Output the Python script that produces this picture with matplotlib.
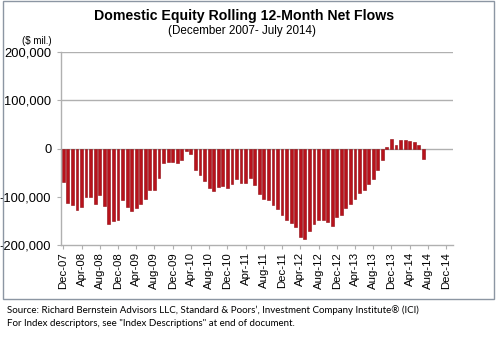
import matplotlib
matplotlib.use("Agg")
import matplotlib.pyplot as plt
from matplotlib.patches import Rectangle

plt.rcParams['font.family'] = ['Liberation Sans', 'DejaVu Sans']

# rolling 12-month net flows, $ mil., Dec-07 .. Jul-14 (monthly)
flows = [
    -69000, -112000, -117000, -127000, -122000, -101000, -101000, -114000,
    -97000, -119000, -157000, -150000, -149000, -106000, -122000, -129000,
    -124000, -116000, -105000, -85000, -85000, -61000, -31000, -28000,
    -28000, -31000, -23000, -6000, -12000, -44000, -54000, -67000,
    -81000, -88000, -80000, -78000, -82000, -74000, -63000, -72000,
    -72000, -61000, -75000, -94000, -105000, -106000, -117000, -126000,
    -138000, -148000, -155000, -163000, -183000, -188000, -172000, -157000,
    -149000, -149000, -153000, -160000, -142000, -138000, -124000, -115000,
    -105000, -92000, -85000, -73000, -63000, -45000, -23000, 3000,
    19000, 8000, 17000, 17000, 16000, 13000, 8000, -21000,
]
# category axis runs Dec-07 .. Jan-15, labels every 4 months
n_slots = 86
tick_labels = ['Dec-07', 'Apr-08', 'Aug-08', 'Dec-08', 'Apr-09', 'Aug-09',
               'Dec-09', 'Apr-10', 'Aug-10', 'Dec-10', 'Apr-11', 'Aug-11',
               'Dec-11', 'Apr-12', 'Aug-12', 'Dec-12', 'Apr-13', 'Aug-13',
               'Dec-13', 'Apr-14', 'Aug-14', 'Dec-14']
y_ticks = [-200000, -100000, 0, 100000, 200000]

W, H = 500, 341
fig = plt.figure(figsize=(W / 100, H / 100), dpi=100)
fig.patch.set_facecolor('white')

# plot area in pixels: x 61..453, y 52..245
ax = fig.add_axes([61 / W, 1 - 245 / H, (453 - 61) / W, (245 - 52) / H])

ax.bar(range(len(flows)), flows, width=0.62, color='#B8121B',
       edgecolor='#8E0A10', linewidth=0.4, zorder=2)

ax.set_xlim(-0.5, n_slots - 0.5)
ax.set_ylim(-200000, 200000)
ax.set_yticks(y_ticks)
ax.set_yticklabels([f'{v:,}' for v in y_ticks], fontsize=9.3)
ax.set_xticks(range(0, 4 * len(tick_labels), 4))
ax.set_xticklabels(tick_labels, rotation=90, fontsize=8.2)

grid_c = '#B0B0B0'
for v in [0, 100000, 200000]:
    ax.axhline(v, color=grid_c, linewidth=1.0, zorder=1)
for s in ['top', 'right']:
    ax.spines[s].set_visible(False)
ax.spines['left'].set_color(grid_c)
ax.spines['bottom'].set_color(grid_c)
ax.spines['left'].set_linewidth(1.0)
ax.spines['bottom'].set_linewidth(1.0)
ax.tick_params(axis='y', colors=grid_c, labelcolor='black', length=3, pad=4)
ax.tick_params(axis='x', colors=grid_c, labelcolor='black', length=3, pad=2)

fig.text(244 / W, 1 - 16 / H, 'Domestic Equity Rolling 12-Month Net Flows',
         ha='center', va='center', fontsize=10.2, fontweight='bold')
fig.text(242 / W, 1 - 31 / H, '(December 2007- July 2014)',
         ha='center', va='center', fontsize=8.4)
fig.text(37 / W, 1 - 41 / H, '($ mil.)', ha='center', va='center', fontsize=7)

# outer frame around the chart
fig.patches.append(Rectangle((3 / W, 1 - 299 / H), 491 / W, 298 / H,
                             transform=fig.transFigure, fill=False,
                             edgecolor='#8C96A3', linewidth=1.0))

src_font = ['Lato', 'DejaVu Sans']
fig.text(7 / W, 1 - 310 / H,
         'Source: Richard Bernstein Advisors LLC, Standard & Poors\u2019, '
         'Investment Company Institute\u00ae (ICI)',
         ha='left', va='center', fontsize=7, family=src_font)
fig.text(7 / W, 1 - 324 / H,
         'For Index descriptors, see "Index Descriptions" at end of document.',
         ha='left', va='center', fontsize=7, family=src_font)

fig.savefig('out.png', dpi=100, facecolor='white')
